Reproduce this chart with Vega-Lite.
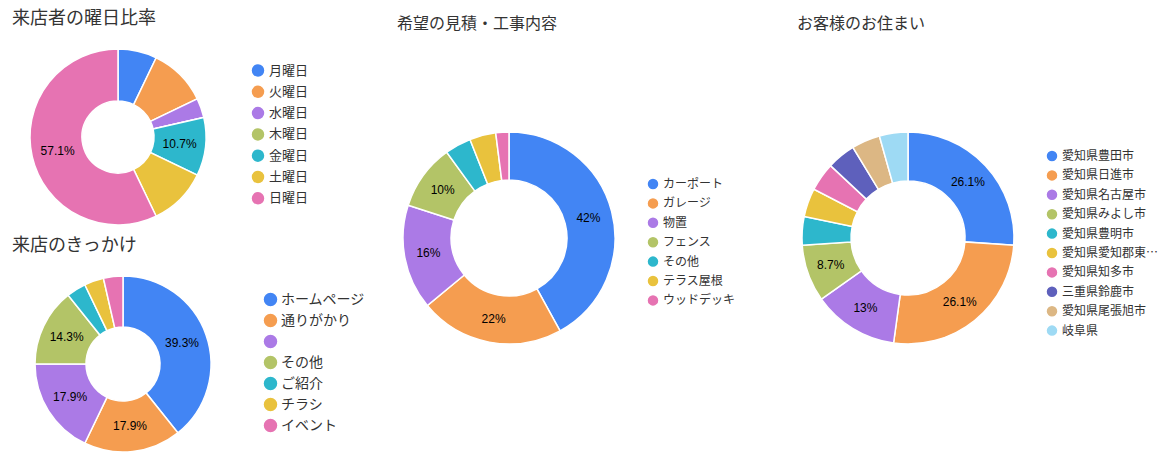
{
  "$schema": "https://vega.github.io/schema/vega-lite/v6.json",
  "padding": {"left": 12, "top": 10, "right": 0, "bottom": 0},
  "config": {
    "font": "Liberation Sans, Noto Sans CJK JP",
    "view": {"stroke": null},
    "title": {"font": "Noto Sans CJK JP", "fontWeight": "normal", "color": "#333333", "anchor": "start"},
    "legend": {"labelFont": "Noto Sans CJK JP", "labelColor": "#333333", "symbolType": "circle", "symbolStrokeWidth": 0, "orient": "none", "title": null},
    "arc": {"stroke": "white", "strokeWidth": 1.5}
  },
  "spacing": 32,
  "resolve": {"scale": {"color": "independent", "theta": "independent"}},
  "hconcat": [
    {
      "spacing": 9,
      "resolve": {"scale": {"color": "independent", "theta": "independent"}},
      "vconcat": [
        {
          "title": {"text": "来店者の曜日比率", "fontSize": 18, "offset": 18},
          "width": 212,
          "height": 176,
          "data": {"values": [
            {"label": "月曜日", "n": 2},
            {"label": "火曜日", "n": 3},
            {"label": "水曜日", "n": 1},
            {"label": "木曜日", "n": 0},
            {"label": "金曜日", "n": 3},
            {"label": "土曜日", "n": 3},
            {"label": "日曜日", "n": 16}
          ]},
          "transform": [
            {"window": [{"op": "row_number", "as": "idx"}]},
            {"joinaggregate": [{"op": "sum", "field": "n", "as": "total"}]},
            {"calculate": "format(datum.n / datum.total, '.1~%')", "as": "pct"}
          ],
          "encoding": {
            "theta": {"field": "n", "type": "quantitative", "stack": true},
            "order": {"field": "idx", "type": "quantitative"},
            "color": {
              "field": "label", "type": "nominal",
              "scale": {
                "domain": ["月曜日", "火曜日", "水曜日", "木曜日", "金曜日", "土曜日", "日曜日"],
                "range": ["#4285f4", "#f59d50", "#ab7ae6", "#b3c467", "#2db7cc", "#e9c23d", "#e673b2"]
              },
              "legend": {"legendX": 238, "legendY": 13.5, "labelFontSize": 13, "symbolSize": 196, "rowPadding": 1.3, "labelOffset": 3}
            }
          },
          "layer": [
            {"mark": {"type": "arc", "outerRadius": 88, "innerRadius": 36}},
            {
              "mark": {"type": "text", "radius": 62, "fontSize": 12, "font": "Liberation Sans"},
              "encoding": {
                "color": {"value": "#000000"},
                "text": {"condition": {"test": "datum.label == '日曜日' || datum.label == '金曜日'", "field": "pct"}, "value": ""}
              }
            }
          ]
        },
        {
          "title": {"text": "来店のきっかけ", "fontSize": 18, "offset": 18},
          "width": 222,
          "height": 176,
          "data": {"values": [
            {"label": "ホームページ", "n": 11},
            {"label": "通りがかり", "n": 5},
            {"label": "", "n": 5},
            {"label": "その他", "n": 4},
            {"label": "ご紹介", "n": 1},
            {"label": "チラシ", "n": 1},
            {"label": "イベント", "n": 1}
          ]},
          "transform": [
            {"window": [{"op": "row_number", "as": "idx"}]},
            {"joinaggregate": [{"op": "sum", "field": "n", "as": "total"}]},
            {"calculate": "format(datum.n / datum.total, '.1~%')", "as": "pct"}
          ],
          "encoding": {
            "theta": {"field": "n", "type": "quantitative", "stack": true},
            "order": {"field": "idx", "type": "quantitative"},
            "color": {
              "field": "label", "type": "nominal",
              "scale": {
                "domain": ["ホームページ", "通りがかり", "", "その他", "ご紹介", "チラシ", "イベント"],
                "range": ["#4285f4", "#f59d50", "#ab7ae6", "#b3c467", "#2db7cc", "#e9c23d", "#e673b2"]
              },
              "legend": {"legendX": 250, "legendY": 15, "labelFontSize": 14, "symbolSize": 225, "rowPadding": 0, "labelOffset": 2}
            }
          },
          "layer": [
            {"mark": {"type": "arc", "outerRadius": 88, "innerRadius": 37}},
            {
              "mark": {"type": "text", "radius": 62.5, "fontSize": 12, "font": "Liberation Sans"},
              "encoding": {
                "color": {"value": "#000000"},
                "text": {"condition": {"test": "datum.n / datum.total >= 0.08", "field": "pct"}, "value": ""}
              }
            }
          ]
        }
      ]
    },
    {
      "spacing": 61,
      "resolve": {"scale": {"color": "independent", "theta": "independent"}},
      "hconcat": [
        {
          "title": {"text": "希望の見積・工事内容", "fontSize": 16, "offset": 17},
          "width": 224,
          "height": 378,
          "data": {"values": [
            {"label": "カーポート", "n": 21},
            {"label": "ガレージ", "n": 11},
            {"label": "物置", "n": 8},
            {"label": "フェンス", "n": 5},
            {"label": "その他", "n": 2},
            {"label": "テラス屋根", "n": 2},
            {"label": "ウッドデッキ", "n": 1}
          ]},
          "transform": [
            {"window": [{"op": "row_number", "as": "idx"}]},
            {"joinaggregate": [{"op": "sum", "field": "n", "as": "total"}]},
            {"calculate": "format(datum.n / datum.total, '.1~%')", "as": "pct"}
          ],
          "encoding": {
            "theta": {"field": "n", "type": "quantitative", "stack": true},
            "order": {"field": "idx", "type": "quantitative"},
            "color": {
              "field": "label", "type": "nominal",
              "scale": {
                "domain": ["カーポート", "ガレージ", "物置", "フェンス", "その他", "テラス屋根", "ウッドデッキ"],
                "range": ["#4285f4", "#f59d50", "#ab7ae6", "#b3c467", "#2db7cc", "#e9c23d", "#e673b2"]
              },
              "legend": {"legendX": 249, "legendY": 128, "labelFontSize": 12, "symbolSize": 144, "rowPadding": 1.4, "labelOffset": 3}
            }
          },
          "layer": [
            {"mark": {"type": "arc", "outerRadius": 106, "innerRadius": 58}},
            {
              "mark": {"type": "text", "radius": 82, "fontSize": 12, "font": "Liberation Sans"},
              "encoding": {
                "color": {"value": "#000000"},
                "text": {"condition": {"test": "datum.n / datum.total >= 0.08", "field": "pct"}, "value": ""}
              }
            }
          ]
        },
        {
          "title": {"text": "お客様のお住まい", "fontSize": 16, "offset": 17},
          "width": 222,
          "height": 378,
          "data": {"values": [
            {"label": "愛知県豊田市", "n": 6},
            {"label": "愛知県日進市", "n": 6},
            {"label": "愛知県名古屋市", "n": 3},
            {"label": "愛知県みよし市", "n": 2},
            {"label": "愛知県豊明市", "n": 1},
            {"label": "愛知県愛知郡東郷町", "n": 1},
            {"label": "愛知県知多市", "n": 1},
            {"label": "三重県鈴鹿市", "n": 1},
            {"label": "愛知県尾張旭市", "n": 1},
            {"label": "岐阜県", "n": 1}
          ]},
          "transform": [
            {"window": [{"op": "row_number", "as": "idx"}]},
            {"joinaggregate": [{"op": "sum", "field": "n", "as": "total"}]},
            {"calculate": "format(datum.n / datum.total, '.1~%')", "as": "pct"}
          ],
          "encoding": {
            "theta": {"field": "n", "type": "quantitative", "stack": true},
            "order": {"field": "idx", "type": "quantitative"},
            "color": {
              "field": "label", "type": "nominal",
              "scale": {
                "domain": ["愛知県豊田市", "愛知県日進市", "愛知県名古屋市", "愛知県みよし市", "愛知県豊明市", "愛知県愛知郡東郷町", "愛知県知多市", "三重県鈴鹿市", "愛知県尾張旭市", "岐阜県"],
                "range": ["#4285f4", "#f59d50", "#ab7ae6", "#b3c467", "#2db7cc", "#e9c23d", "#e673b2", "#5e60bc", "#dcb784", "#9edaf4"]
              },
              "legend": {"legendX": 248, "legendY": 100, "labelFontSize": 12, "symbolSize": 144, "rowPadding": 1.4, "labelOffset": 3, "labelLimit": 97}
            }
          },
          "layer": [
            {"mark": {"type": "arc", "outerRadius": 106, "innerRadius": 57}},
            {
              "mark": {"type": "text", "radius": 82, "fontSize": 12, "font": "Liberation Sans"},
              "encoding": {
                "color": {"value": "#000000"},
                "text": {"condition": {"test": "datum.n / datum.total >= 0.08", "field": "pct"}, "value": ""}
              }
            }
          ]
        }
      ]
    }
  ]
}
